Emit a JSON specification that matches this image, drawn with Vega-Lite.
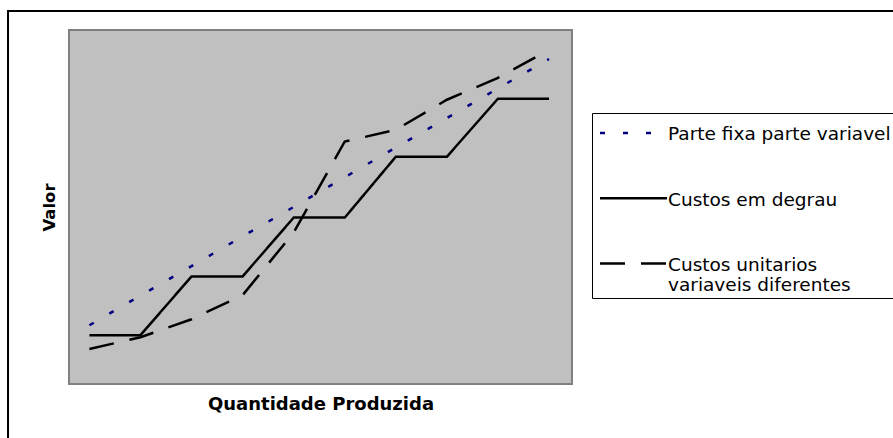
{
  "$schema": "https://vega.github.io/schema/vega-lite/v6.json",
  "width": 503,
  "height": 354,
  "autosize": {"type": "none"},
  "padding": {"left": 69, "top": 30, "right": 321, "bottom": 54},
  "background": "white",
  "config": {
    "view": {"fill": "#C0C0C0", "stroke": "#808080", "strokeWidth": 2},
    "font": "DejaVu Sans"
  },
  "data": {
    "values": [
      {"q": 1, "valor": 16.6, "serie": "Parte fixa parte variavel"},
      {"q": 2, "valor": 25.0, "serie": "Parte fixa parte variavel"},
      {"q": 3, "valor": 33.3, "serie": "Parte fixa parte variavel"},
      {"q": 4, "valor": 41.7, "serie": "Parte fixa parte variavel"},
      {"q": 5, "valor": 50.0, "serie": "Parte fixa parte variavel"},
      {"q": 6, "valor": 58.4, "serie": "Parte fixa parte variavel"},
      {"q": 7, "valor": 66.8, "serie": "Parte fixa parte variavel"},
      {"q": 8, "valor": 75.1, "serie": "Parte fixa parte variavel"},
      {"q": 9, "valor": 83.5, "serie": "Parte fixa parte variavel"},
      {"q": 10, "valor": 91.8, "serie": "Parte fixa parte variavel"},
      {"q": 1, "valor": 13.8, "serie": "Custos em degrau"},
      {"q": 2, "valor": 13.8, "serie": "Custos em degrau"},
      {"q": 3, "valor": 30.4, "serie": "Custos em degrau"},
      {"q": 4, "valor": 30.4, "serie": "Custos em degrau"},
      {"q": 5, "valor": 47.0, "serie": "Custos em degrau"},
      {"q": 6, "valor": 47.0, "serie": "Custos em degrau"},
      {"q": 7, "valor": 64.2, "serie": "Custos em degrau"},
      {"q": 8, "valor": 64.2, "serie": "Custos em degrau"},
      {"q": 9, "valor": 80.6, "serie": "Custos em degrau"},
      {"q": 10, "valor": 80.6, "serie": "Custos em degrau"},
      {"q": 1, "valor": 9.9, "serie": "Custos unitarios variaveis diferentes"},
      {"q": 2, "valor": 13.2, "serie": "Custos unitarios variaveis diferentes"},
      {"q": 3, "valor": 18.3, "serie": "Custos unitarios variaveis diferentes"},
      {"q": 4, "valor": 25.1, "serie": "Custos unitarios variaveis diferentes"},
      {"q": 5, "valor": 42.8, "serie": "Custos unitarios variaveis diferentes"},
      {"q": 6, "valor": 68.5, "serie": "Custos unitarios variaveis diferentes"},
      {"q": 7, "valor": 71.8, "serie": "Custos unitarios variaveis diferentes"},
      {"q": 8, "valor": 80.3, "serie": "Custos unitarios variaveis diferentes"},
      {"q": 9, "valor": 86.5, "serie": "Custos unitarios variaveis diferentes"},
      {"q": 10, "valor": 94.4, "serie": "Custos unitarios variaveis diferentes"}
    ]
  },
  "layer": [
    {
      "data": {"values": [{}]},
      "mark": {"type": "rect", "filled": false, "stroke": "black", "strokeWidth": 2, "clip": false},
      "encoding": {
        "x": {"datum": -0.594, "type": "quantitative"},
        "x2": {"datum": 16.87},
        "y": {"datum": 105.4, "type": "quantitative"},
        "y2": {"datum": -17.2}
      }
    },
    {
      "mark": {"type": "line", "strokeWidth": 2.5, "strokeCap": "butt"},
      "encoding": {
        "x": {
          "field": "q",
          "type": "quantitative",
          "scale": {"domain": [0.6, 10.45], "nice": false, "zero": false},
          "axis": {
            "title": "Quantidade Produzida",
            "titleFont": "DejaVu Sans",
            "titleFontWeight": "bold",
            "titleFontSize": 18,
            "titleColor": "black",
            "titlePadding": 11,
            "domain": false,
            "ticks": false,
            "labels": false,
            "grid": false
          }
        },
        "y": {
          "field": "valor",
          "type": "quantitative",
          "scale": {"domain": [0, 100], "nice": false, "zero": false},
          "axis": {
            "title": "Valor",
            "titleFont": "DejaVu Sans",
            "titleFontWeight": "bold",
            "titleFontSize": 16.5,
            "titleColor": "black",
            "titlePadding": 12,
            "domain": false,
            "ticks": false,
            "labels": false,
            "grid": false
          }
        },
        "color": {
          "field": "serie",
          "type": "nominal",
          "scale": {
            "domain": ["Parte fixa parte variavel", "Custos em degrau", "Custos unitarios variaveis diferentes"],
            "range": ["#000080", "black", "black"]
          },
          "legend": {
            "title": null,
            "orient": "none",
            "legendX": 523,
            "legendY": 83,
            "padding": 3,
            "strokeColor": "black",
            "fillColor": "white",
            "symbolType": "M-33.5,7.86H33.5",
            "symbolSize": 4,
            "symbolStrokeWidth": 2.5,
            "symbolOffset": 29.25,
            "labelFont": "DejaVu Sans",
            "labelFontSize": 18.5,
            "labelColor": "black",
            "labelLimit": 400,
            "labelOffset": 25.25,
            "labelBaseline": "top",
            "rowPadding": 37.25,
            "labelExpr": "datum.label == 'Custos unitarios variaveis diferentes' ? ['Custos unitarios', 'variaveis diferentes'] : datum.label"
          }
        },
        "strokeDash": {
          "field": "serie",
          "type": "nominal",
          "scale": {
            "domain": ["Parte fixa parte variavel", "Custos em degrau", "Custos unitarios variaveis diferentes"],
            "range": [[5, 18], [1, 0], [25, 16]]
          },
          "legend": null
        }
      }
    }
  ]
}
